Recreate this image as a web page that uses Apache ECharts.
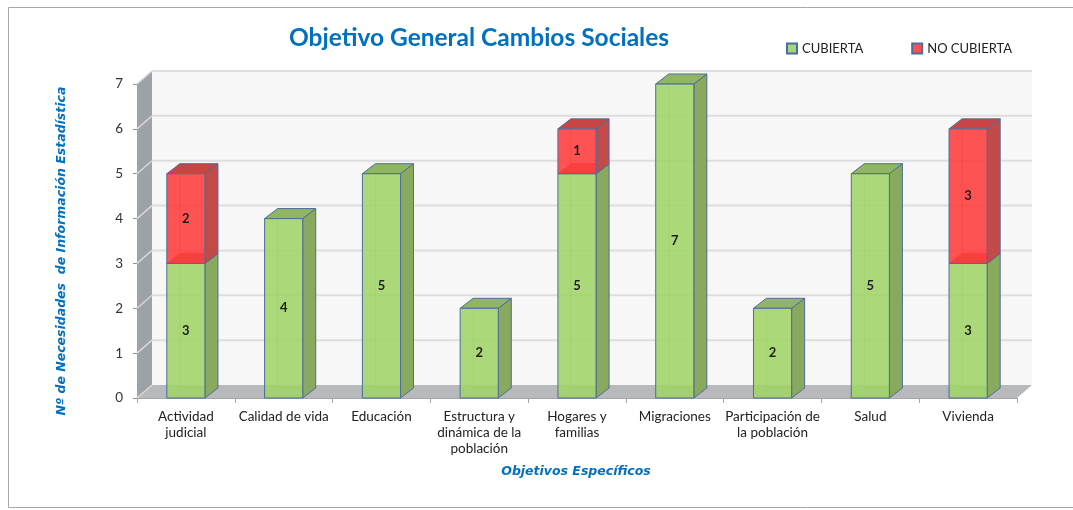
<!DOCTYPE html>
<html>
<head>
<meta charset="utf-8">
<script src="https://cdn.jsdelivr.net/npm/echarts@6/dist/echarts.min.js"></script>
<style>
html, body {margin: 0; padding: 0; background: #fff;}
#chart {width: 1073px; height: 510px;}
</style>
</head>
<body>
<div id="chart"></div>
<script>
var categories = ['Actividad\njudicial', 'Calidad de vida', 'Educación', 'Estructura y\ndinámica de la\npoblación',
    'Hogares y\nfamilias', 'Migraciones', 'Participación de\nla población', 'Salud', 'Vivienda'];
var cubierta = [3, 4, 5, 2, 5, 7, 2, 5, 3];
var no_cubierta = [2, 0, 0, 0, 1, 0, 0, 0, 3];
var y_ticks = [0, 1, 2, 3, 4, 5, 6, 7];

const font = 'Lato, "Open Sans", sans-serif';
const name_font = '"DejaVu Sans", sans-serif';
const wall_dx = 15, wall_dy = -13;   // depth of the box
const bar_dx = 13, bar_dy = -10;     // depth of each bar
const bar_ratio = 0.39;

const green = {front: 'rgba(160,212,104,0.88)', side: '#88a95e', top: '#90b565', inner: 'rgba(70,110,60,0.35)'};
const red = {front: 'rgba(255,64,64,0.9)', side: '#c24b4a', top: '#c94444', inner: 'rgba(140,40,40,0.45)', under: '#d43b28'};
const edge = '#4d6d9c';

function poly(points, fill, stroke) {
    return {type: 'polygon', shape: {points: points}, style: {fill: fill, stroke: stroke || null, lineWidth: 1}};
}

function render_walls(params, api) {
    var cs = params.coordSys;
    var x0 = cs.x, x1 = cs.x + cs.width, y0 = cs.y + cs.height, y1 = cs.y;
    var kids = [
        // back wall
        poly([[x0 + wall_dx, y1 + wall_dy], [x1 + wall_dx, y1 + wall_dy], [x1 + wall_dx, y0 + wall_dy], [x0 + wall_dx, y0 + wall_dy]], '#f7f7f7'),
        // left wall
        poly([[x0, y1], [x0 + wall_dx, y1 + wall_dy], [x0 + wall_dx, y0 + wall_dy], [x0, y0]], '#9ea1a5'),
        // floor
        poly([[x0, y0], [x0 + wall_dx, y0 + wall_dy], [x1 + wall_dx, y0 + wall_dy], [x1, y0]], '#b7b9bc'),
    ];
    y_ticks.forEach(function (v) {
        var y = api.coord([0, v])[1];
        if (v > 0) {
            kids.push({type: 'line', shape: {x1: x0 + wall_dx, y1: y + wall_dy, x2: x1 + wall_dx, y2: y + wall_dy},
                style: {stroke: '#dedede', lineWidth: 2}});
        }
        kids.push({type: 'line', shape: {x1: x0, y1: y, x2: x0 + wall_dx, y2: y + wall_dy},
            style: {stroke: '#d6d8da', lineWidth: 1.5}});
    });
    return {type: 'group', children: kids};
}

function make_bar_renderer(col, is_top) {
    return function (params, api) {
        var idx = api.value(0), base = api.value(1), top = api.value(2), val = api.value(3);
        if (!val) return null;
        var pb = api.coord([idx, base]), pt = api.coord([idx, top]);
        var bw = api.size([1, 0])[0] * bar_ratio;
        var l = pb[0] - bw / 2, r = pb[0] + bw / 2, yb = pb[1], yt = pt[1];
        var kids = [];
        if (is_top) {
            // the lower box's lid seen through the transparent face
            kids.push(poly([[l, yb], [l + bar_dx, yb + bar_dy], [r + bar_dx, yb + bar_dy], [r, yb]], col.under));
        }
        kids.push({type: 'line', shape: {x1: l + bar_dx, y1: yb + bar_dy, x2: l + bar_dx, y2: yt + bar_dy}, style: {stroke: col.inner, lineWidth: 1}});
        kids.push({type: 'line', shape: {x1: l + bar_dx, y1: yb + bar_dy, x2: r + bar_dx, y2: yb + bar_dy}, style: {stroke: col.inner, lineWidth: 1}});
        kids.push(poly([[r, yt], [r + bar_dx, yt + bar_dy], [r + bar_dx, yb + bar_dy], [r, yb]], col.side, edge));
        kids.push(poly([[l, yt], [l + bar_dx, yt + bar_dy], [r + bar_dx, yt + bar_dy], [r, yt]], col.top, edge));
        kids.push(poly([[l, yt], [r, yt], [r, yb], [l, yb]], col.front, edge));
        kids.push({type: 'text', style: {text: String(val), x: pb[0], y: (yb + yt) / 2, align: 'center', verticalAlign: 'middle',
            font: 'bold 13px ' + font, fill: '#1e1e1e'}});
        return {type: 'group', children: kids};
    };
}

var chart = echarts.init(document.getElementById('chart'));
chart.setOption({
    animation: false,
    textStyle: {fontFamily: font},
    grid: {left: 137, right: 56, top: 84, bottom: 112},
    legend: {
        left: 781, top: 37, itemWidth: 10, itemHeight: 10, itemGap: 48,
        icon: 'rect',
        textStyle: {fontSize: 13, color: '#222', fontFamily: font},
        data: ['CUBIERTA', 'NO CUBIERTA'],
    },
    xAxis: {
        type: 'category',
        data: categories,
        axisLine: {show: true, lineStyle: {color: '#a6a6a6'}},
        axisTick: {show: true, length: 5, lineStyle: {color: '#a6a6a6'}},
        axisLabel: {fontSize: 13.5, color: '#222', lineHeight: 16, margin: 11, interval: 0},
        splitLine: {show: false},
    },
    yAxis: {
        type: 'value', min: 0, max: 7, interval: 1,
        axisLine: {show: true, lineStyle: {color: '#8c8f93'}},
        axisTick: {show: true, length: 4, lineStyle: {color: '#8c8f93'}},
        axisLabel: {fontSize: 13.5, color: '#333', margin: 14},
        splitLine: {show: false},
    },
    graphic: [
        {type: 'rect', shape: {x: 8.5, y: 7.5, width: 1100, height: 500}, style: {fill: null, stroke: '#a6a6a6', lineWidth: 1}, silent: true},
        {type: 'text', x: 479, y: 38, style: {text: 'Objetivo General Cambios Sociales', align: 'center', verticalAlign: 'middle',
            font: 'bold 24.5px ' + font, fill: '#0070c0'}},
        {type: 'text', x: 62, y: 251, rotation: Math.PI / 2, style: {text: 'Nº de Necesidades  de Información Estadística',
            align: 'center', verticalAlign: 'middle', font: 'oblique bold 12.5px ' + name_font, fill: '#0070c0'}},
        {type: 'text', x: 576, y: 472, style: {text: 'Objetivos Específicos', align: 'center', verticalAlign: 'middle',
            font: 'oblique bold 12.5px ' + name_font, fill: '#0070c0'}},
    ],
    series: [
        {
            type: 'custom', name: 'walls', z: 1, clip: false, silent: true,
            renderItem: render_walls, data: [[0, 0]],
        },
        {
            type: 'custom', name: 'CUBIERTA', z: 3, clip: false,
            itemStyle: {color: '#a9d67a', borderColor: edge, borderWidth: 1},
            renderItem: make_bar_renderer(green, false),
            encode: {x: 0, y: 2},
            data: cubierta.map(function (v, i) {return [i, 0, v, v];}),
        },
        {
            type: 'custom', name: 'NO CUBIERTA', z: 4, clip: false,
            itemStyle: {color: '#ff4f4f', borderColor: edge, borderWidth: 1},
            renderItem: make_bar_renderer(red, true),
            encode: {x: 0, y: 2},
            data: no_cubierta.map(function (v, i) {return [i, cubierta[i], cubierta[i] + v, v];}),
        },
    ],
});
</script>
</body>
</html>
